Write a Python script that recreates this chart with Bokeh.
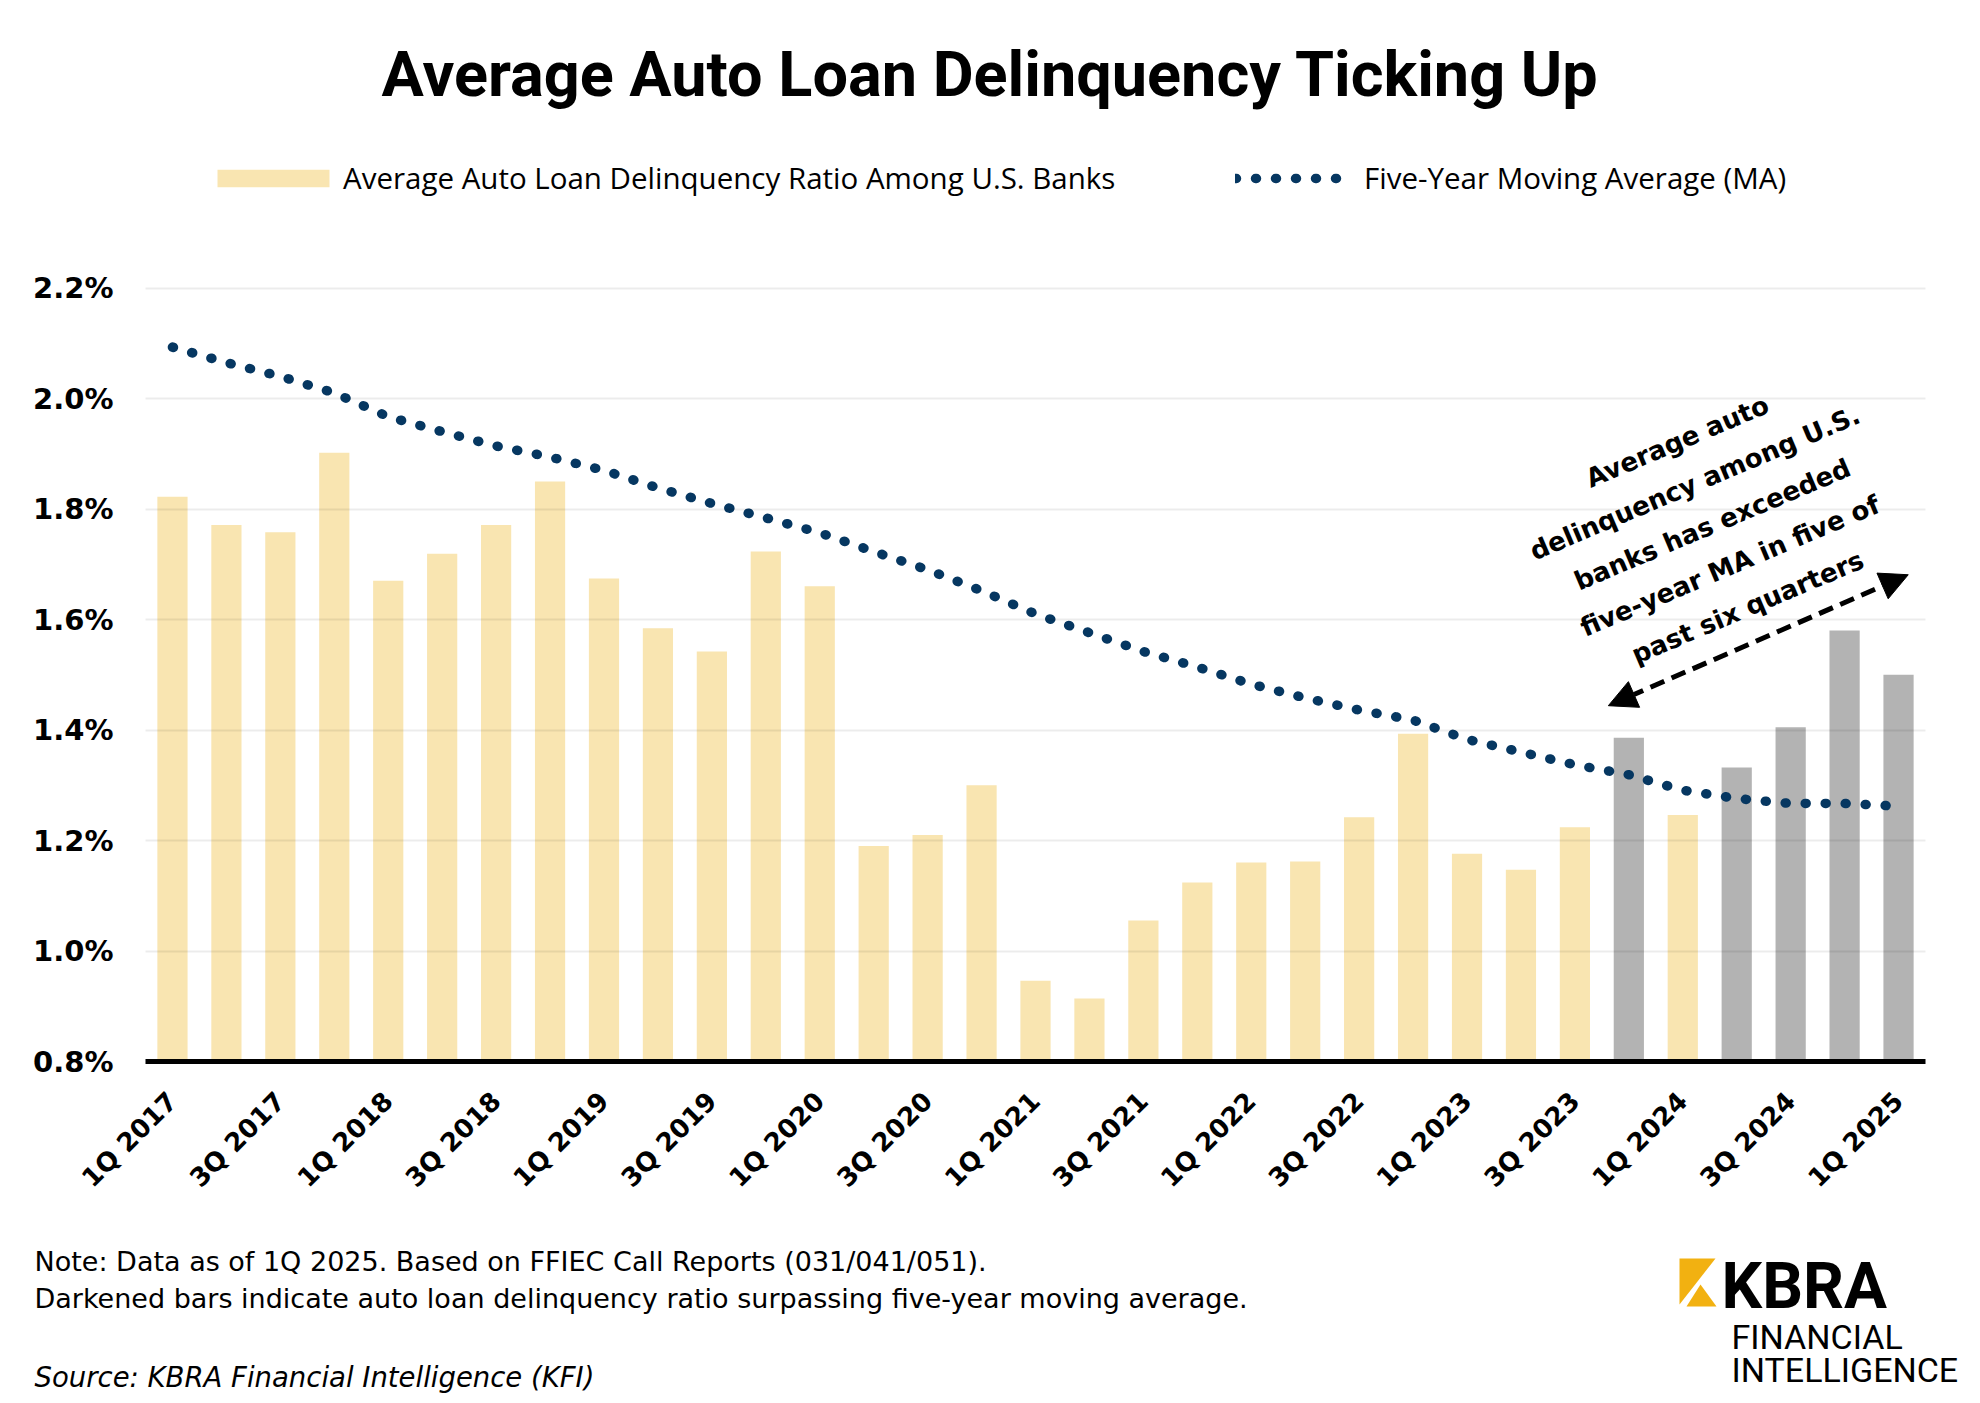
import math
from bokeh.plotting import figure
from bokeh.layouts import column
from bokeh.models import (ColumnDataSource, Range1d, FixedTicker, PrintfTickFormatter,
                          Legend, LegendItem, Label, Arrow, NormalHead)
from bokeh.core.properties import value
from bokeh.embed import file_html
from bokeh.resources import INLINE

# ---------------- data ----------------
quarters = ["1Q 2017", "2Q 2017", "3Q 2017", "4Q 2017",
            "1Q 2018", "2Q 2018", "3Q 2018", "4Q 2018",
            "1Q 2019", "2Q 2019", "3Q 2019", "4Q 2019",
            "1Q 2020", "2Q 2020", "3Q 2020", "4Q 2020",
            "1Q 2021", "2Q 2021", "3Q 2021", "4Q 2021",
            "1Q 2022", "2Q 2022", "3Q 2022", "4Q 2022",
            "1Q 2023", "2Q 2023", "3Q 2023", "4Q 2023",
            "1Q 2024", "2Q 2024", "3Q 2024", "4Q 2024",
            "1Q 2025"]
delinquency = [1.822, 1.771, 1.758, 1.902, 1.670, 1.719, 1.771, 1.850,
               1.674, 1.584, 1.542, 1.723, 1.660, 1.190, 1.210, 1.300,
               0.946, 0.914, 1.055, 1.124, 1.160, 1.162, 1.242, 1.393,
               1.176, 1.147, 1.224, 1.386, 1.246, 1.332, 1.405, 1.580,
               1.500]
five_year_ma = [2.093, 2.065, 2.040, 2.010, 1.967, 1.940, 1.914, 1.894,
                1.870, 1.838, 1.810, 1.784, 1.757, 1.723, 1.690, 1.652,
                1.610, 1.576, 1.542, 1.514, 1.483, 1.458, 1.436, 1.418,
                1.383, 1.360, 1.337, 1.319, 1.291, 1.276, 1.267, 1.267,
                1.262]
y_ticks = [0.8, 1.0, 1.2, 1.4, 1.6, 1.8, 2.0, 2.2]

bar_label = "Average Auto Loan Delinquency Ratio Among U.S. Banks"
ma_label = "Five-Year Moving Average (MA)"
title_text = "Average Auto Loan Delinquency Ticking Up"
note_lines = ["Note: Data as of 1Q 2025. Based on FFIEC Call Reports (031/041/051).",
              "Darkened bars indicate auto loan delinquency ratio surpassing five-year moving average."]
source_text = "Source: KBRA Financial Intelligence (KFI)"
callout = ("Average auto\ndelinquency among U.S.\nbanks has exceeded\n"
           "five-year MA in five of\npast six quarters")

YELLOW = "#F9E5B1"
GRAY = "#B3B3B3"
NAVY = "#063761"
LOGO_YELLOW = "#F2B111"

idx = list(range(len(quarters)))
colors = [GRAY if d > m else YELLOW for d, m in zip(delinquency, five_year_ma)]
src = ColumnDataSource(dict(x=idx, q=quarters, d=delinquency, ma=five_year_ma, c=colors))

# ---------------- main chart ----------------
W = 1980
H1 = 1215
FRAME_L, FRAME_R, FRAME_B = 145, 1925, 1061
PX_PER_UNIT = 552.5
p = figure(width=W, height=H1, output_backend="svg", toolbar_location=None,
           title=None,
           x_range=Range1d(-0.5, len(quarters) - 0.5),
           y_range=Range1d(0.8, 0.8 + FRAME_B / PX_PER_UNIT),
           min_border_left=FRAME_L, min_border_right=W - FRAME_R, min_border_top=0,
           min_border_bottom=H1 - FRAME_B)
p.outline_line_color = None
p.frame_align = False

bars = p.vbar(x="x", top="d", bottom=0.8, width=0.56, fill_color="c",
              line_color=None, source=src)
ma_line = p.line(x="x", y="ma", source=src, line_color=NAVY, line_width=9.5,
                 line_dash="1 19", line_cap="round")

# axes
p.xaxis.ticker = FixedTicker(ticks=idx[::2])
p.xaxis.major_label_overrides = {i: quarters[i] for i in idx[::2]}
p.xaxis.major_label_orientation = math.pi / 4
p.xaxis.major_label_text_font = "DejaVu Sans"
p.xaxis.major_label_text_font_style = "bold"
p.xaxis.major_label_text_font_size = "26px"
p.xaxis.major_label_text_color = "black"
p.xaxis.major_label_standoff = 29
p.xaxis.major_tick_line_color = None
p.xaxis.minor_tick_line_color = None
p.xaxis.axis_line_color = "black"
p.xaxis.axis_line_width = 5

p.yaxis.ticker = FixedTicker(ticks=y_ticks)
p.yaxis.formatter = PrintfTickFormatter(format="%.1f%%")
p.yaxis.major_label_text_font = "DejaVu Sans"
p.yaxis.major_label_text_font_style = "bold"
p.yaxis.major_label_text_font_size = "29px"
p.yaxis.major_label_text_color = "black"
p.yaxis.major_label_standoff = 26
p.yaxis.major_tick_line_color = None
p.yaxis.minor_tick_line_color = None
p.yaxis.axis_line_color = None

p.xgrid.visible = False
p.ygrid.ticker = FixedTicker(ticks=y_ticks)
p.ygrid.grid_line_color = "black"
p.ygrid.grid_line_alpha = 0.075
p.ygrid.grid_line_width = 2
p.ygrid.level = "annotation"

# legends (two, so each swatch gets its own width)
common = dict(orientation="horizontal", padding=0, margin=0, glyph_height=22,
              label_height=30, label_text_font="Open Sans",
              label_text_font_size="29.5px", label_text_color="black",
              border_line_color=None, background_fill_alpha=0)
leg1 = Legend(items=[LegendItem(label=bar_label, renderers=[bars], index=0)],
              location=(203 - FRAME_L, 863), glyph_width=140, label_standoff=0, **common)
leg2 = Legend(items=[LegendItem(label=ma_label, renderers=[ma_line])],
              location=(1235 - FRAME_L, 863), glyph_width=108, label_standoff=21, **common)
p.add_layout(leg1)
p.add_layout(leg2)

# title (screen units relative to the frame)
p.add_layout(Label(x=990 - FRAME_L, y=FRAME_B - 74, x_units="screen", y_units="screen",
                   text=title_text, text_align="center", text_baseline="middle",
                   text_font="Roboto", text_font_style="bold", text_font_size="63px",
                   text_color="black"))

# callout text and arrow
p.add_layout(Label(x=28.55, y=1.772, text=callout, angle=0.401,
                   text_align="center", text_baseline="middle",
                   text_font="DejaVu Sans", text_font_style="bold",
                   text_font_size="26px", text_line_height=1.5, text_color="black"))
p.add_layout(Arrow(x_start=26.62, y_start=1.444, x_end=32.18, y_end=1.681,
                   start=NormalHead(size=28, fill_color="black", line_color="black"),
                   end=NormalHead(size=28, fill_color="black", line_color="black"),
                   line_color="black", line_width=5, line_dash="15 8"))

# ---------------- footer strip (page pixel coordinates) ----------------
H2 = 1403 - H1
f = figure(width=W, height=H2, output_backend="svg", toolbar_location=None, title=None,
           x_range=Range1d(0, W), y_range=Range1d(1403, H1),
           x_axis_location=None, y_axis_location=None,
           min_border_left=0, min_border_right=0, min_border_top=0, min_border_bottom=0)
f.outline_line_color = None
f.grid.visible = False
f.frame_align = False

for text, ymid in zip(note_lines, [1261, 1298]):
    f.text(x=[34], y=[ymid], text=[text], text_align="left", text_baseline="middle",
           text_font=value("DejaVu Sans"), text_font_size="27px", text_color="black")
f.text(x=[34], y=[1376], text=[source_text], text_align="left", text_baseline="middle",
       text_font=value("DejaVu Sans"), text_font_style="italic", text_font_size="27.5px",
       text_color="black")

# logo
f.patches(xs=[[1679, 1715, 1679], [1700, 1716, 1686]],
          ys=[[1258, 1258, 1304], [1284, 1306, 1306]],
          fill_color=LOGO_YELLOW, line_color=None)
f.text(x=[1721], y=[1286], text=["KBRA"], text_align="left", text_baseline="middle",
       text_font=value("Roboto"), text_font_style="bold", text_font_size="64px",
       text_color="black")
for text, ymid in zip(["FINANCIAL", "INTELLIGENCE"], [1336, 1369]):
    f.text(x=[1731], y=[ymid], text=[text], text_align="left", text_baseline="middle",
           text_font=value("Roboto"), text_font_size="34px", text_color="black")

layout = column(p, f, spacing=0)
open("out.html", "w").write(file_html(layout, INLINE))
